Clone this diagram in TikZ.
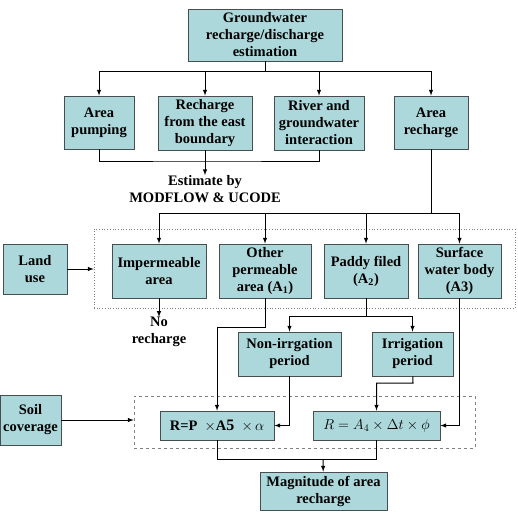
\documentclass[tikz,border=0pt]{standalone}
\usepackage{fontspec}
\setmainfont{Liberation Serif}
\usepackage{amsmath}
\definecolor{boxfill}{RGB}{172,216,219}
\definecolor{boxline}{RGB}{70,78,80}

\begin{document}
\begin{tikzpicture}[x=1pt,y=-1pt,>=latex,
    box/.style={draw=boxline,fill=boxfill,line width=0.8pt,inner sep=0pt,align=center,
      font=\fontsize{14.5}{17}\selectfont\bfseries},
    txt/.style={inner sep=0pt,align=center,font=\fontsize{14.5}{17}\selectfont\bfseries},
    conn/.style={line width=1pt},
    group/.style={draw=gray,inner sep=0pt,line width=0.7pt}]
            \useasboundingbox (0,0) rectangle (518,513);
            % top level
            \node[box,minimum width=154,minimum height=52] (est) at (265,35) {Groundwater\\recharge/discharge\\estimation};
            \node[box,minimum width=70,minimum height=53] (pump) at (99,122.5) {Area\\pumping};
            \node[box,minimum width=94,minimum height=54] (east) at (205,123) {Recharge\\from the east\\boundary};
            \node[box,minimum width=90,minimum height=54] (river) at (319,123) {River and\\groundwater\\interaction};
            \node[box,minimum width=74,minimum height=53] (arch) at (431,122.5) {Area\\recharge};
            \node[txt] (modflow) at (205,189) {Estimate by\\MODFLOW \& UCODE};
            % land use
            \node[group,dotted,minimum width=421,minimum height=79] (lugrp) at (304.5,268.5) {};
            \node[box,minimum width=64,minimum height=50] (land) at (35,269) {Land\\use};
            \node[box,minimum width=94,minimum height=54] (imp) at (159,271) {Impermeable\\area};
            \node[box,minimum width=92,minimum height=54] (oth) at (265,271) {Other\\permeable\\area (A\textsubscript{1})};
            \node[box,minimum width=84,minimum height=54] (pad) at (366,271) {Paddy filed\\(A\textsubscript{2})};
            \node[box,minimum width=83,minimum height=54] (sw) at (459.5,271) {Surface\\water body\\(A3)};
            \node[txt] (norc) at (159,332) {No\\recharge};
            \node[box,minimum width=103,minimum height=44] (nonirr) at (289.5,354) {Non-irrgation\\period};
            \node[box,minimum width=81,minimum height=44] (irr) at (412.5,354) {Irrigation\\period};
            % soil coverage
            \node[group,dashed,minimum width=341,minimum height=52] (sgrp) at (304.5,422) {};
            \node[box,minimum width=61,minimum height=50] (soil) at (30.5,420) {Soil\\coverage};
            \node[box,minimum width=114,minimum height=29] (rp) at (217,425.5) {R=P\enspace$\times$A{\fontsize{16}{17}\selectfont 5}\enspace$\times\,\alpha$};
            \node[box,minimum width=127,minimum height=29,font=\fontsize{14.5}{17}\selectfont] (fa) at (376.5,425.5) {$R = A_4\times\Delta t\times\phi$};
            \node[box,minimum width=127,minimum height=38] (mag) at (323.5,491) {Magnitude of area\\recharge};
            % junctions
            \coordinate (j1) at (265,72);
            \coordinate (j2) at (205,161);
            \coordinate (j3) at (431,213);
            \coordinate (j4) at (265,327);
            \coordinate (j5) at (366,316);
            \coordinate (j6) at (413,383);
            \coordinate (j7) at (323,459);
            % connectors
            \draw[conn] (est) -- (j1);
            \draw[conn,->] (j1) -| (pump);
            \draw[conn,->] (j1) -| (east);
            \draw[conn,->] (j1) -| (river);
            \draw[conn,->] (j1) -| (arch);
            \draw[conn] (pump) |- (j2) -| (river);
            \draw[conn,->] (east) -- (modflow);
            \draw[conn] (arch) -- (j3);
            \draw[conn,->] (j3) -| (imp);
            \draw[conn,->] (j3) -| (oth);
            \draw[conn,->] (j3) -| (pad);
            \draw[conn,->] (j3) -| (sw);
            \draw[conn,->] (land) -- (land -| lugrp.west);
            \draw[conn,->] (imp) -- (norc);
            \draw[conn,->] (oth) -- (j4) -| (rp);
            \draw[conn] (pad) -- (j5);
            \draw[conn,->] (j5) -| (nonirr);
            \draw[conn,->] (j5) -| (irr);
            \draw[conn,->] (nonirr) |- (rp);
            \draw[conn,->] (irr) -- (j6) -| (fa);
            \draw[conn,->] (sw) |- (fa);
            \draw[conn,->] (soil) -- (soil -| sgrp.west);
            \draw[conn] (rp) |- (j7);
            \draw[conn] (fa) |- (j7);
            \draw[conn,->] (j7) -- (mag);
        \end{tikzpicture}
\end{document}
